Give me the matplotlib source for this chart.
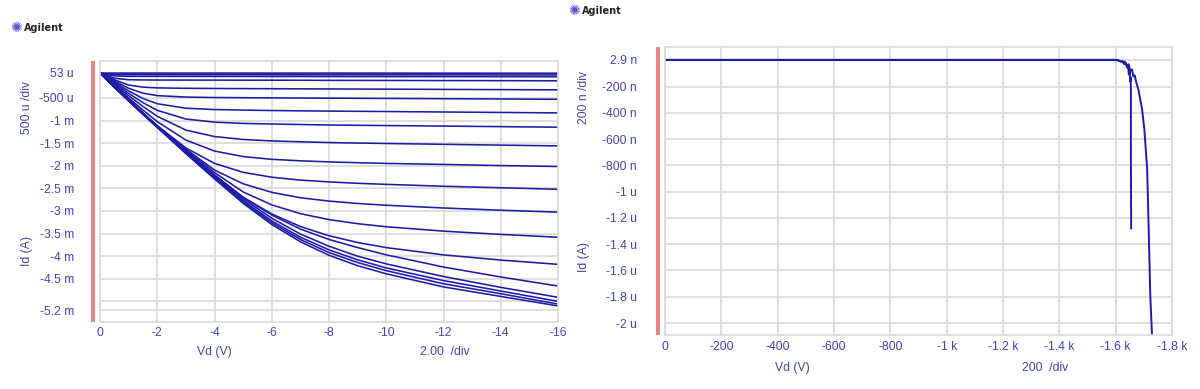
import matplotlib
matplotlib.use("Agg")
import matplotlib.pyplot as plt
from matplotlib.patches import Rectangle

# ---------------- data: left panel (Id in mA vs Vd in V) ----------------
vd_left = [0, -0.5, -1, -1.5, -2, -3, -4, -5, -6, -7, -8, -9, -10, -12, -14, -16]
id_curves_mA = [
    [0.05, 0.05, 0.05, 0.05, 0.05, 0.05, 0.05, 0.05, 0.05, 0.05, 0.05, 0.05, 0.049, 0.048, 0.047, 0.046],
    [0.05, 0.017, 0.015, 0.015, 0.015, 0.014, 0.014, 0.014, 0.013, 0.013, 0.012, 0.012, 0.012, 0.011, 0.010, 0.010],
    [0.05, -0.012, -0.021, -0.022, -0.022, -0.023, -0.024, -0.024, -0.025, -0.025, -0.026, -0.026, -0.027, -0.028, -0.029, -0.030],
    [0.05, -0.063, -0.097, -0.101, -0.103, -0.104, -0.105, -0.106, -0.107, -0.108, -0.110, -0.111, -0.112, -0.115, -0.117, -0.120],
    [0.05, -0.098, -0.214, -0.260, -0.277, -0.286, -0.290, -0.293, -0.295, -0.298, -0.300, -0.303, -0.305, -0.310, -0.315, -0.320],
    [0.05, -0.124, -0.285, -0.394, -0.448, -0.480, -0.490, -0.494, -0.498, -0.501, -0.504, -0.507, -0.510, -0.516, -0.522, -0.530],
    [0.05, -0.150, -0.344, -0.511, -0.627, -0.727, -0.756, -0.768, -0.778, -0.784, -0.790, -0.795, -0.800, -0.810, -0.820, -0.830],
    [0.05, -0.175, -0.397, -0.603, -0.773, -0.966, -1.035, -1.063, -1.076, -1.087, -1.098, -1.104, -1.110, -1.122, -1.134, -1.146],
    [0.05, -0.200, -0.448, -0.688, -0.905, -1.211, -1.354, -1.418, -1.450, -1.469, -1.486, -1.497, -1.507, -1.525, -1.543, -1.560],
    [0.05, -0.225, -0.499, -0.768, -1.022, -1.432, -1.674, -1.796, -1.857, -1.890, -1.914, -1.932, -1.948, -1.970, -1.995, -2.016],
    [0.05, -0.245, -0.540, -0.830, -1.112, -1.605, -1.947, -2.145, -2.253, -2.317, -2.357, -2.388, -2.411, -2.453, -2.486, -2.520],
    [0.05, -0.245, -0.540, -0.834, -1.121, -1.630, -2.095, -2.398, -2.588, -2.707, -2.781, -2.834, -2.873, -2.934, -2.983, -3.026],
    [0.05, -0.245, -0.540, -0.835, -1.125, -1.650, -2.150, -2.579, -2.865, -3.059, -3.191, -3.281, -3.349, -3.446, -3.518, -3.581],
    [0.05, -0.245, -0.540, -0.835, -1.127, -1.680, -2.200, -2.695, -3.065, -3.344, -3.548, -3.697, -3.810, -3.971, -4.086, -4.180],
    [0.05, -0.26, -0.56, -0.85, -1.13, -1.69, -2.21, -2.70, -3.09, -3.40, -3.63, -3.81, -3.97, -4.24, -4.46, -4.66],
    [0.05, -0.26, -0.56, -0.85, -1.14, -1.70, -2.23, -2.73, -3.16, -3.51, -3.78, -4.00, -4.17, -4.45, -4.69, -4.91],
    [0.05, -0.26, -0.56, -0.86, -1.14, -1.71, -2.25, -2.77, -3.22, -3.58, -3.86, -4.08, -4.26, -4.54, -4.77, -5.00],
    [0.05, -0.26, -0.56, -0.86, -1.15, -1.72, -2.27, -2.80, -3.26, -3.63, -3.92, -4.14, -4.32, -4.61, -4.83, -5.06],
    [0.05, -0.26, -0.56, -0.86, -1.15, -1.73, -2.29, -2.83, -3.30, -3.68, -3.98, -4.21, -4.39, -4.68, -4.89, -5.10],
]
left_xticks = [0, -2, -4, -6, -8, -10, -12, -14, -16]
left_xticklabels = ["0", "-2", "-4", "-6", "-8", "-10", "-12", "-14", "-16"]
left_yticks = [0.053, -0.5, -1.0, -1.5, -2.0, -2.5, -3.0, -3.5, -4.0, -4.5, -5.2]
left_yticklabels = ["53 u", "-500 u", "-1 m", "-1.5 m", "-2 m", "-2.5 m", "-3 m",
                    "-3.5 m", "-4 m", "-4.5 m", "-5.2 m"]
left_extra_grid = [-5.0]

# ---------------- data: right panel (Id in nA vs Vd in V) ----------------
vd_right_a = [0, -400, -800, -1200, -1500, -1600, -1615, -1625, -1632, -1640, -1646,
              -1652, -1658, -1663, -1668, -1672, -1681, -1694, -1702, -1712, -1717,
              -1723, -1729, -1732]
id_right_a = [2.9, 2.9, 2.9, 2.9, 2.9, 2.9, -5, -15, -10, -40, -30,
              -80, -70, -124, -115, -160, -225, -377, -530, -834, -1265,
              -1797, -2088, -2200]
vd_right_b = [0, -600, -1200, -1580, -1605, -1618, -1625, -1630, -1636, -1640, -1644,
              -1647, -1650, -1652, -1653, -1654, -1654, -1655]
id_right_b = [2.9, 2.9, 2.9, 2.9, 2.9, -10, -5, -30, -20, -55, -45,
              -110, -80, -160, -130, -210, -700, -1280]
right_xticks = [0, -200, -400, -600, -800, -1000, -1200, -1400, -1600, -1800]
right_xticklabels = ["0", "-200", "-400", "-600", "-800", "-1 k", "-1.2 k", "-1.4 k",
                     "-1.6 k", "-1.8 k"]
right_yticks = [2.9, -200, -400, -600, -800, -1000, -1200, -1400, -1600, -1800, -2000]
right_yticklabels = ["2.9 n", "-200 n", "-400 n", "-600 n", "-800 n", "-1 u", "-1.2 u",
                     "-1.4 u", "-1.6 u", "-1.8 u", "-2 u"]

# ---------------- styling ----------------
LINE = "#1c1ca6"
TXT = "#4444aa"
GRID = "#d9d9d9"
RED = "#e98585"
FS = 8.7
FONT = ["Liberation Sans", "DejaVu Sans"]
plt.rcParams["font.family"] = FONT

W, H = 1200, 389
fig = plt.figure(figsize=(W / 100, H / 100), dpi=100)
fig.patch.set_facecolor("white")
PT = 72 / 100  # points per pixel


def px_axes(x0, y0, x1, y1):
    return fig.add_axes([x0 / W, 1 - y1 / H, (x1 - x0) / W, (y1 - y0) / H])


def style(ax):
    for s in ax.spines.values():
        s.set_color(GRID)
        s.set_linewidth(1.2)
    ax.tick_params(length=0, colors=TXT, labelsize=FS)
    ax.grid(True, color=GRID, linewidth=1.2)
    ax.set_axisbelow(True)


# ---- left panel ----
axL = px_axes(100, 61, 558, 322)
for ys in id_curves_mA:
    axL.plot(vd_left, ys, color=LINE, lw=1.15, solid_joinstyle="round")
axL.set_xlim(0, -16)
axL.set_ylim(-5.456, 0.318)
axL.set_xticks(left_xticks)
axL.set_xticklabels(left_xticklabels)
axL.set_yticks(left_yticks)
axL.set_yticklabels(left_yticklabels)
for g in left_extra_grid:
    axL.axhline(g, color=GRID, lw=1.2, zorder=0)
style(axL)
axL.tick_params(axis="y", pad=26 * PT)
axL.tick_params(axis="x", pad=5 * PT)
fig.add_artist(Rectangle((91 / W, 1 - 322 / H), 4 / W, 261 / H,
                         transform=fig.transFigure, color=RED, lw=0))

# ---- right panel ----
axR = px_axes(665, 47, 1172, 335)
axR.plot(vd_right_a, id_right_a, color=LINE, lw=1.4, solid_joinstyle="round")
axR.plot(vd_right_b, id_right_b, color=LINE, lw=1.4, solid_joinstyle="round")
axR.set_xlim(0, -1800)
axR.set_ylim(-2091, 101)
axR.set_xticks(right_xticks)
axR.set_xticklabels(right_xticklabels)
axR.set_yticks(right_yticks)
axR.set_yticklabels(right_yticklabels)
style(axR)
axR.tick_params(axis="y", pad=28 * PT)
axR.tick_params(axis="x", pad=6 * PT)
fig.add_artist(Rectangle((656 / W, 1 - 335 / H), 4 / W, 288 / H,
                         transform=fig.transFigure, color=RED, lw=0))

# ---- text labels ----
def ftxt(x, y, s, **kw):
    kw.setdefault("color", TXT)
    kw.setdefault("fontsize", FS)
    fig.text(x / W, 1 - y / H, s, ha="center", va="center", **kw)


ftxt(27, 107, "500 u /div", rotation=90)
ftxt(27, 251, "Id (A)", rotation=90)
ftxt(214, 352, "Vd (V)")
ftxt(445, 352, "2.00  /div")
ftxt(584, 98, "200 n /div", rotation=90)
ftxt(584, 257, "Id (A)", rotation=90)
ftxt(792, 368, "Vd (V)")
ftxt(1045, 368, "200  /div")

# Agilent logos
ftxt(16, 28, "\u273a", color="#5555cc", fontsize=10, family=["DejaVu Sans"])
ftxt(44, 28, "Agilent", color="#222222", fontsize=7, fontweight="bold",
     family=["DejaVu Sans"])
ftxt(574, 11, "\u273a", color="#5555cc", fontsize=10, family=["DejaVu Sans"])
ftxt(602, 11, "Agilent", color="#222222", fontsize=7, fontweight="bold",
     family=["DejaVu Sans"])

fig.savefig("out.png", dpi=100, facecolor="white")
